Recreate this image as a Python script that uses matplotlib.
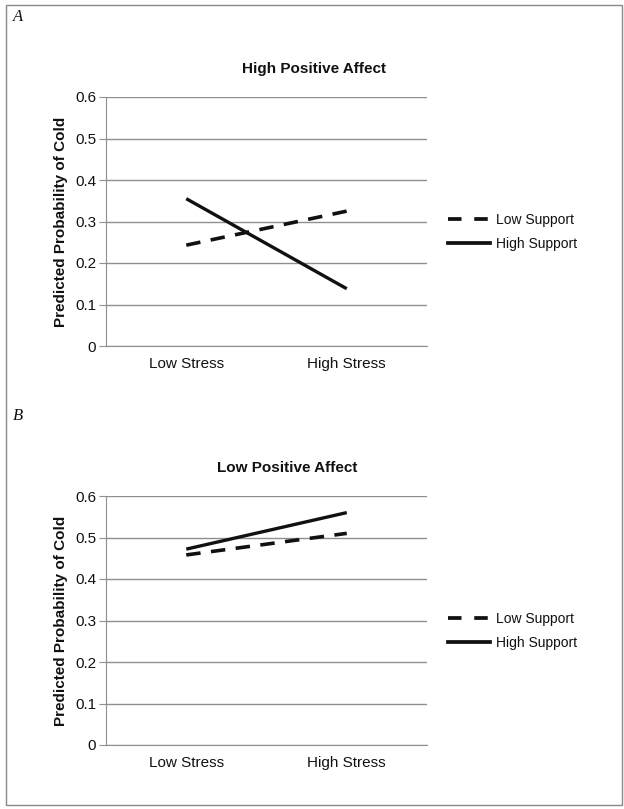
"""Predicted probability of cold by stress, support and positive affect."""
import matplotlib
matplotlib.use("Agg")
import matplotlib.pyplot as plt
from matplotlib.patches import Rectangle
from matplotlib.lines import Line2D

plt.rcParams['font.family'] = ['Liberation Sans', 'DejaVu Sans']

# Data
categories = ['Low Stress', 'High Stress']
series_names = ['Low Support', 'High Support']
high_pa_low_support = [0.243, 0.325]
high_pa_high_support = [0.355, 0.138]
low_pa_low_support = [0.458, 0.510]
low_pa_high_support = [0.472, 0.560]
y_ticks = [0, 0.1, 0.2, 0.3, 0.4, 0.5, 0.6]
y_tick_labels = ['0', '0.1', '0.2', '0.3', '0.4', '0.5', '0.6']

W, H = 624, 809
GRID = '#8f8f8f'
INK = '#111111'


def px(x0, y_top, w, h):
    """Pixel box (from top-left) to figure fraction rect."""
    return [x0 / W, 1 - (y_top + h) / H, w / W, h / H]


def draw_panel(fig, rect, title, title_xy, low_vals, high_vals, legend_y):
    ax = fig.add_axes(rect)
    x = range(len(categories))
    ax.plot(x, low_vals, color=INK, lw=2.6, dashes=(4.0, 2.9),
            solid_capstyle='butt', dash_capstyle='butt')
    ax.plot(x, high_vals, color=INK, lw=2.4, solid_capstyle='butt')

    ax.set_xlim(-0.5, 1.5)
    ax.set_ylim(0, 0.6)
    ax.set_yticks(y_ticks)
    ax.set_yticklabels(y_tick_labels)
    ax.set_xticks(list(x))
    ax.set_xticklabels(categories, va='center_baseline')
    ax.yaxis.grid(True, color=GRID, lw=1.0)
    ax.set_axisbelow(True)
    for side in ['top', 'right']:
        ax.spines[side].set_visible(False)
    ax.spines['left'].set_color(GRID)
    ax.spines['bottom'].set_color(GRID)
    ax.tick_params(axis='y', length=5, color=GRID, labelsize=11,
                   labelcolor=INK, pad=2)
    ax.tick_params(axis='x', length=0, labelsize=11, labelcolor=INK, pad=12)
    ax.set_ylabel('Predicted Probability of Cold', fontsize=11,
                  fontweight='bold', color=INK, labelpad=5)

    fig.text(title_xy[0] / W, 1 - title_xy[1] / H, title, ha='center',
             va='center', fontsize=11, fontweight='bold', color=INK)

    handles = [
        Line2D([], [], color=INK, lw=2.7, dashes=(3.6, 3.4),
               dash_capstyle='butt'),
        Line2D([], [], color=INK, lw=2.7),
    ]
    fig.legend(handles, series_names, loc='center left',
               bbox_to_anchor=(448 / W, 1 - legend_y / H), frameon=False,
               fontsize=10, handlelength=3.0, handletextpad=0.45,
               labelspacing=0.75, borderpad=0, borderaxespad=0,
               labelcolor=INK)
    return ax


fig = plt.figure(figsize=(W / 100, H / 100), dpi=100)

draw_panel(fig, px(106, 97, 321, 249), 'High Positive Affect', (314, 69),
           high_pa_low_support, high_pa_high_support, 232)
draw_panel(fig, px(106, 496, 321, 249), 'Low Positive Affect', (287, 468),
           low_pa_low_support, low_pa_high_support, 631)

# panel letters
fig.text(13 / W, 1 - 17 / H, 'A', family='Liberation Serif', style='italic',
         fontsize=12, va='center', color=INK)
fig.text(13 / W, 1 - 416 / H, 'B', family='Liberation Serif', style='italic',
         fontsize=12, va='center', color=INK)

# outer frame
fig.patches.append(Rectangle((6 / W, 1 - 805 / H), 616 / W, 800 / H,
                             transform=fig.transFigure, fill=False,
                             edgecolor='#888888', lw=1.0))

fig.savefig('out.png', dpi=100)
plt.close(fig)
